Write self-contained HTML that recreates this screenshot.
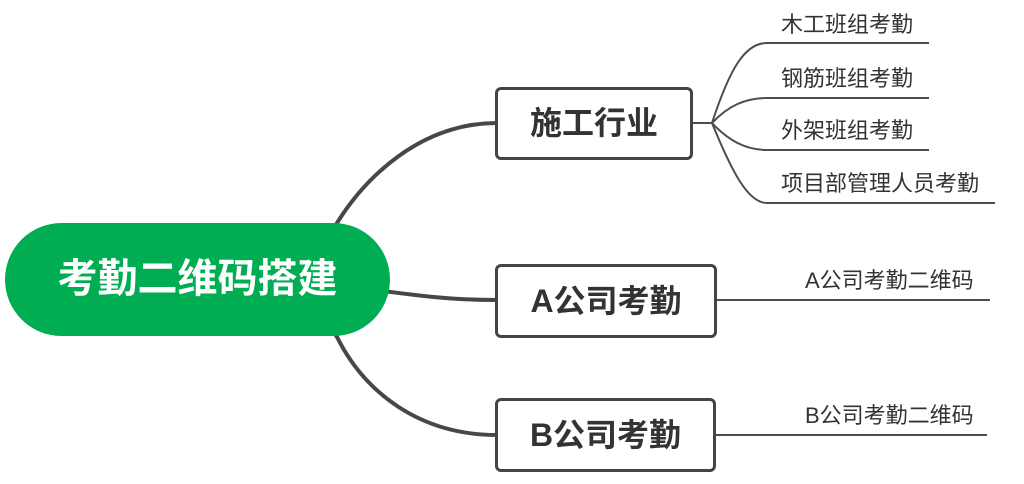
<!DOCTYPE html>
<html>
<head>
<meta charset="utf-8">
<style>
  html, body { margin:0; padding:0; background:#ffffff; }
  body { width:1024px; height:484px; position:relative; overflow:hidden;
         font-family:"Liberation Sans","Noto Sans CJK SC",sans-serif; }
  svg { position:absolute; left:0; top:0; }
  .pill { position:absolute; left:5px; top:223px; width:385px; height:113px;
          background:#00ad53; border-radius:57px; }
  .pilltext { position:absolute; left:5px; top:223px; width:385px; height:113px;
          line-height:113px; text-align:center; color:#fff; font-weight:bold; font-size:40px;
          font-family:"Liberation Sans","Noto Sans CJK SC",sans-serif; }
  .box { position:absolute; box-sizing:border-box; border:3px solid #444; border-radius:6px;
         background:#fff; color:#333; font-weight:bold; font-size:32px; text-align:center;
         font-family:"Liberation Sans","Noto Sans CJK SC",sans-serif; }
  .lbl { position:absolute; font-size:22px; line-height:22px; color:#333; white-space:nowrap;
         font-family:"Liberation Sans","Noto Sans CJK SC",sans-serif; }
</style>
</head>
<body>
<svg width="1024" height="484" viewBox="0 0 1024 484">
  <g fill="none" stroke="#474747" stroke-width="4" stroke-linecap="round">
    <!-- top main curve -->
    <path d="M322,246 L337,223 C365,178 420,123 497,123"/>
    <!-- middle main curve -->
    <path d="M360,288 C420,296 450,300 497,300"/>
    <!-- bottom main curve -->
    <path d="M322,314 L337,337 C365,393 420,435 497,435"/>
  </g>
  <g fill="none" stroke="#4d4d4d" stroke-width="2">
    <path d="M692,123 L712,123"/>
    <path d="M712,123 C730,68 745,43 767,43 L929,43"/>
    <path d="M712,123 C728,106 745,98 767,98 L929,98"/>
    <path d="M712,123 C728,140 745,150 767,150 L929,150"/>
    <path d="M712,123 C732,172 748,203 767,203 L995,203"/>
    <path d="M717,300 L990,300"/>
    <path d="M716,435 L987,435"/>
  </g>
</svg>

<div class="pill"></div>
<div class="pilltext">考勤二维码搭建</div>

<div class="box" style="left:495px;top:87px;width:198px;height:73px;line-height:67px;">施工行业</div>
<div class="box" style="left:495px;top:264px;width:222px;height:74px;line-height:68px;">A公司考勤</div>
<div class="box" style="left:495px;top:398px;width:221px;height:74px;line-height:68px;">B公司考勤</div>

<div class="lbl" style="left:781px;top:14px;">木工班组考勤</div>
<div class="lbl" style="left:781px;top:68px;">钢筋班组考勤</div>
<div class="lbl" style="left:781px;top:120px;">外架班组考勤</div>
<div class="lbl" style="left:781px;top:173px;">项目部管理人员考勤</div>

<div class="lbl" style="left:805px;top:270px;">A公司考勤二维码</div>
<div class="lbl" style="left:805px;top:405px;">B公司考勤二维码</div>
</body>
</html>
